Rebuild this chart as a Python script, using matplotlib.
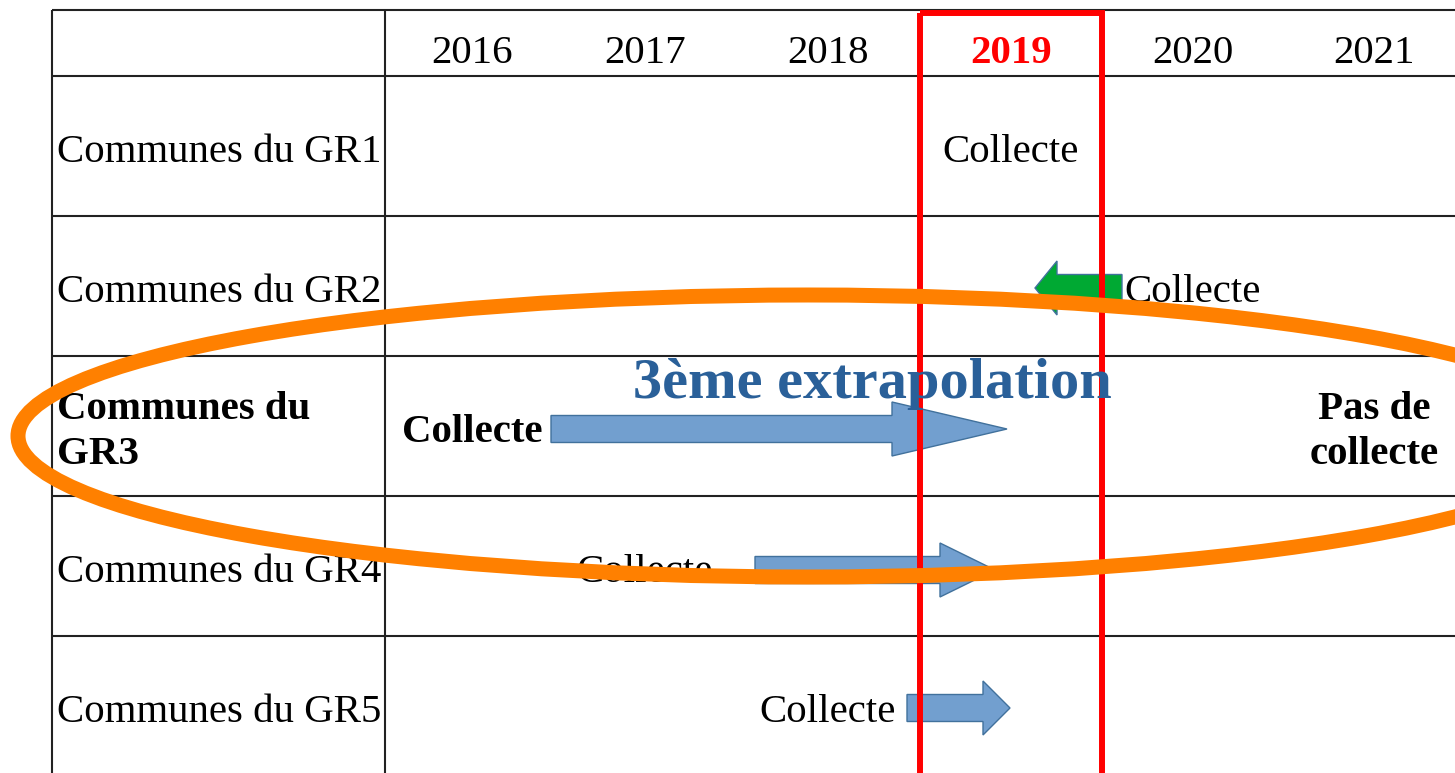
import matplotlib
matplotlib.use("Agg")
import matplotlib.pyplot as plt
import matplotlib.patches as patches

# table content
years = ["2016", "2017", "2018", "2019", "2020", "2021"]
highlight_year = "2019"
groups = ["Communes du GR1", "Communes du GR2", "Communes du\nGR3",
          "Communes du GR4", "Communes du GR5"]
bold_group = 2
# (row, year, text) for the cells
cells = [(0, "2019", "Collecte"),
         (1, "2020", "Collecte"),
         (2, "2016", "Collecte"),
         (2, "2021", "Pas de\ncollecte"),
         (3, "2017", "Collecte"),
         (4, "2018", "Collecte")]
# extrapolation arrows: row, start, end (table pixel units)
arrow_rows = [1, 2, 3, 4]
arrow_start = [1122, 551, 755, 907]
arrow_end = [1035, 1007, 995, 1010]
arrow_colors = ["#00a933", "#729fcf", "#729fcf", "#729fcf"]
title_text = "3ème extrapolation"

# layout of the table (pixels)
W, H = 1455, 773
col_edges = [52, 385]
year_x = [472, 645, 828, 1011, 1193, 1374]
row_edges = [10, 76, 216, 356, 496, 636]
row_h = 140
label_x = 57
arrow_y = [288, 429, 570, 708]
head_len = [22, 115, 55, 27]

fig = plt.figure(figsize=(W / 100, H / 100), dpi=100)
ax = fig.add_axes([0, 0, 1, 1])
ax.set_xlim(0, W)
ax.set_ylim(H, 0)
ax.axis("off")

serif = ["Liberation Serif", "DejaVu Serif"]
fs = 29.4

# grid
ax.hlines(row_edges, col_edges[0], W, color="#222222", lw=1.5, zorder=1)
ax.vlines(col_edges, row_edges[0], H, color="#222222", lw=1.5, zorder=1)

# header
for i, y in enumerate(years):
    hl = y == highlight_year
    ax.text(year_x[i], 63, y, ha="center", va="baseline", family=serif,
            fontsize=fs, color="red" if hl else "black",
            fontweight="bold" if hl else "normal", zorder=3)

# row labels
for i, g in enumerate(groups):
    yc = row_edges[i + 1] + row_h / 2
    bold = i == bold_group
    ax.text(label_x, yc + 6, g, ha="left", va="center", family=serif,
            fontsize=fs, fontweight="bold" if bold else "normal",
            linespacing=1.3, zorder=2)

# cells
for r, yr, txt in cells:
    yc = row_edges[r + 1] + row_h / 2
    bold = r == bold_group
    ax.text(year_x[years.index(yr)], yc + 6, txt, ha="center", va="center",
            family=serif, fontsize=fs, fontweight="bold" if bold else "normal",
            linespacing=1.3, zorder=2)

# arrows
for i, (x0, x1, c) in enumerate(zip(arrow_start, arrow_end, arrow_colors)):
    ax.add_patch(patches.FancyArrow(x0, arrow_y[i], x1 - x0, 0, width=27,
                                    head_width=54, head_length=head_len[i],
                                    length_includes_head=True, fc=c,
                                    ec="#41719c", lw=1, zorder=3))

# highlighted year column
ax.add_patch(patches.Rectangle((920, 13), 182, 900, fill=False, ec="#ff0000",
                               lw=4.3, zorder=4))

ax.text(872, 398, title_text, ha="center", va="baseline", family=serif,
        fontsize=42, fontweight="bold", color="#2a6099", zorder=5)

ax.add_patch(patches.Ellipse((808, 436), 2 * 790, 2 * 141, fill=False,
                             ec="#ff8000", lw=10.8, zorder=6))

fig.savefig("out.png", dpi=100)
